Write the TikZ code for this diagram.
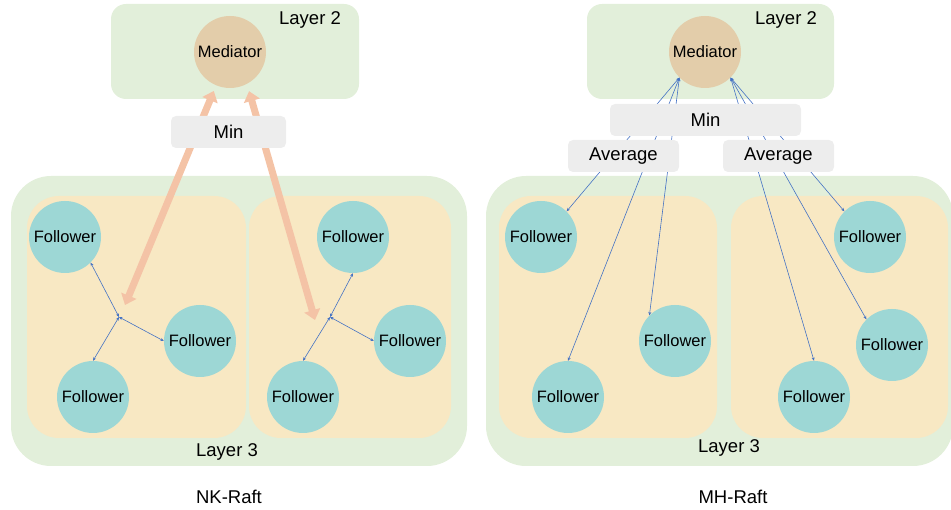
\documentclass[tikz,border=0pt]{standalone}
\usepackage{fontspec}
\setmainfont{Liberation Sans}
\usetikzlibrary{arrows.meta}

\definecolor{laygreen}{HTML}{E2EFDA}
\definecolor{grpyellow}{HTML}{F8E8C3}
\definecolor{medtan}{HTML}{E3CDAA}
\definecolor{folteal}{HTML}{9DD7D5}
\definecolor{agggray}{HTML}{EDEDED}
\definecolor{linkblue}{HTML}{4472C4}
\definecolor{raftorange}{HTML}{F4C3A6}

\begin{document}
\begin{tikzpicture}[x=1pt, y=-1pt,
  lay/.style={fill=laygreen, rounded corners=15pt},
  outer/.style={fill=laygreen, rounded corners=40pt},
  grp/.style={fill=grpyellow, rounded corners=32pt},
  med/.style={circle, fill=medtan, minimum size=72pt, inner sep=0pt, font=\fontsize{16.5}{18}\selectfont},
  fol/.style={circle, fill=folteal, minimum size=72pt, inner sep=0pt, font=\fontsize{16.5}{18}\selectfont},
  agg/.style={fill=agggray, rounded corners=5pt, inner sep=0pt, minimum height=32pt, font=\fontsize{18.5}{20}\selectfont},
  lbl/.style={font=\fontsize{18.5}{20}\selectfont},
  link/.style={draw=linkblue, line width=0.6pt, {Stealth[length=3.5pt,width=3pt]}-{Stealth[length=3.5pt,width=3pt]}},
  big/.style={draw=raftorange, line width=7pt, {Triangle[length=10pt,width=16pt]}-{Triangle[length=10pt,width=16pt]}}]

  \useasboundingbox (0,0) rectangle (951,510);
  \clip (0,0) rectangle (951,510);

  % NK-Raft
  \fill[lay] (111,4) rectangle (359,99);
  \fill[outer] (11,176) rectangle (467,466);
  \fill[grp] (27,196) rectangle (246,438);
  \fill[grp] (249,196) rectangle (451,438);

  \node[med] (medL) at (230,52) {Mediator};
  \node[lbl] (l2L) at (310,20) {Layer 2};
  \node[lbl] (l3L) at (227,452) {Layer 3};
  \node[lbl] (nk) at (229,497) {NK-Raft};

  \node[fol] (fL1) at (65,237) {Follower};
  \node[fol] (fL2) at (200,341) {Follower};
  \node[fol] (fL3) at (93,397) {Follower};
  \node[fol] (fL4) at (353,237) {Follower};
  \node[fol] (fL5) at (410,341) {Follower};
  \node[fol] (fL6) at (303,397) {Follower};

  \coordinate (hubL) at (119,317);
  \coordinate (hubR) at (330,317);
  \draw[link] (hubL) -- (fL1.-45);
  \draw[link] (hubL) -- (fL2.west);
  \draw[link] (hubL) -- (fL3.north);
  \draw[link] (hubR) -- (fL4.south);
  \draw[link] (hubR) -- (fL5.west);
  \draw[link] (hubR) -- (fL6.north);

  \coordinate (oL) at (125,305);
  \coordinate (oR) at (315,320);
  \draw[big, shorten <=6pt] (medL) -- (oL);
  \draw[big, shorten <=7.5pt] (medL.-62) -- (oR);

  \node[agg, minimum width=115pt] (minL) at (228.5,132) {Min};

  % MH-Raft
  \fill[lay] (587,4) rectangle (834,99);
  \fill[outer] (486,176) rectangle (953,466);
  \fill[grp] (499,196) rectangle (717,438);
  \fill[grp] (731,196) rectangle (948,438);

  \node[med] (medR) at (705,52) {Mediator};
  \node[lbl] (l2R) at (786,20) {Layer 2};
  \node[lbl] (l3R) at (729,448) {Layer 3};
  \node[lbl] (mh) at (733,497) {MH-Raft};

  \node[fol] (fR1) at (541,237) {Follower};
  \node[fol] (fR2) at (675,341) {Follower};
  \node[fol] (fR3) at (568,397) {Follower};
  \node[fol] (fR4) at (870,237) {Follower};
  \node[fol] (fR5) at (892,345) {Follower};
  \node[fol] (fR6) at (814,397) {Follower};

  \draw[link] (medR.-135) -- (fR1.45);
  \draw[link] (medR.-135) -- (fR2.135);
  \draw[link] (medR.-135) -- (fR3.north);
  \draw[link] (medR.-45) -- (fR4.135);
  \draw[link] (medR.-45) -- (fR5.135);
  \draw[link] (medR.-45) -- (fR6.north);

  \node[agg, minimum width=191pt] (minR) at (705.5,120) {Min};
  \node[agg, minimum width=111pt] (avgL) at (623.5,156) {Average};
  \node[agg, minimum width=111pt] (avgR) at (778.5,156) {Average};
\end{tikzpicture}
\end{document}
